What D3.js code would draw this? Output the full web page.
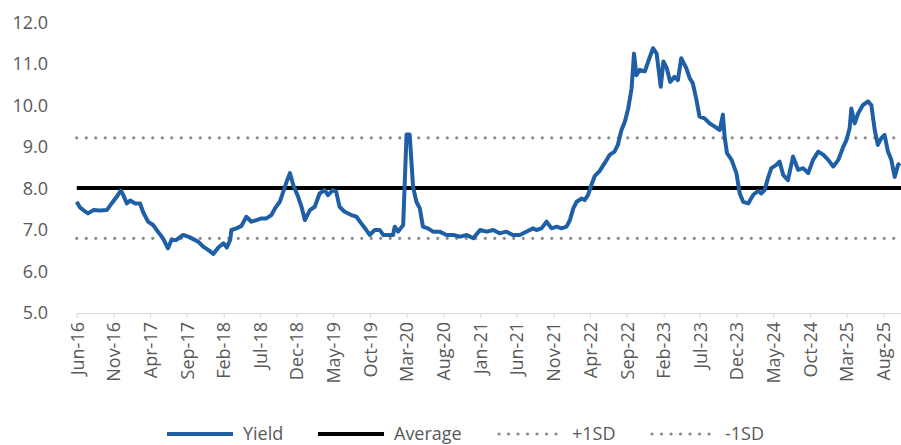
<!DOCTYPE html><head><meta charset = "utf-8">
<title>yield</title>
<style type = "text/css">
* {
  box-sizing: border-box;
}
body {
  margin: 0;
  background: white;
}
svg text {
  font-family: "Open Sans", "Noto Sans", sans-serif;
  fill: #595959;
}
</style>
<script type="text/javascript" src="https://cdn.jsdelivr.net/npm/d3@7/dist/d3.min.js"></script>
</head><body>
<div class="chart"></div>

<script type="text/javascript">

// weekly-ish readings of the yield line
var yieldDates = [
"2016-06-01","2016-06-14","2016-06-28","2016-07-18","2016-08-09","2016-09-06","2016-10-04","2016-10-24","2016-11-14","2016-12-01",
"2016-12-12","2016-12-26","2017-01-09","2017-01-30","2017-02-19","2017-03-03","2017-03-24","2017-04-14","2017-05-04","2017-05-25",
"2017-06-15","2017-06-29","2017-07-20","2017-08-17","2017-09-07","2017-09-28","2017-10-18","2017-11-08","2017-11-29","2017-12-20",
"2018-01-10","2018-01-31","2018-02-14","2018-02-28","2018-03-05","2018-03-26","2018-04-16","2018-05-06","2018-05-27","2018-06-17",
"2018-07-08","2018-07-28","2018-08-18","2018-09-02","2018-09-22","2018-10-06","2018-10-20","2018-11-03","2018-11-17","2018-12-07",
"2018-12-21","2019-01-04","2019-01-25","2019-02-14","2019-03-06","2019-03-27","2019-04-10","2019-04-30","2019-05-14","2019-05-28",
"2019-06-18","2019-07-16","2019-08-06","2019-08-26","2019-09-16","2019-09-30","2019-10-21","2019-11-11","2019-11-25","2019-12-15",
"2020-01-05","2020-01-12","2020-01-26","2020-02-16","2020-03-01","2020-03-14","2020-03-28","2020-04-11","2020-04-25","2020-05-08",
"2020-05-29","2020-06-19","2020-07-16","2020-08-14","2020-09-11","2020-10-09","2020-11-06","2020-12-03","2020-12-31","2021-01-28",
"2021-02-24","2021-03-22","2021-04-19","2021-05-16","2021-06-14","2021-07-11","2021-08-08","2021-08-22","2021-09-12","2021-10-03",
"2021-10-24","2021-11-14","2021-12-04","2021-12-25","2022-01-08","2022-01-22","2022-02-05","2022-02-26","2022-03-10","2022-03-24",
"2022-04-07","2022-04-21","2022-05-11","2022-06-01","2022-06-22","2022-07-12","2022-07-26","2022-08-10","2022-08-24","2022-09-07",
"2022-09-21","2022-10-01","2022-10-11","2022-10-25","2022-11-15","2022-11-29","2022-12-19","2023-01-03","2023-01-20","2023-01-31",
"2023-02-14","2023-02-28","2023-03-18","2023-04-01","2023-04-15","2023-05-06","2023-05-20","2023-06-02","2023-06-17","2023-06-30",
"2023-07-21","2023-08-11","2023-09-01","2023-09-22","2023-10-05","2023-10-12","2023-10-22","2023-11-10","2023-11-30","2023-12-14",
"2023-12-28","2024-01-18","2024-02-08","2024-02-28","2024-03-12","2024-03-26","2024-04-09","2024-04-23","2024-05-14","2024-05-27",
"2024-06-11","2024-07-01","2024-07-22","2024-08-12","2024-09-02","2024-09-23","2024-10-13","2024-11-04","2024-11-25","2024-12-15",
"2025-01-05","2025-01-26","2025-02-16","2025-03-01","2025-03-14","2025-03-21","2025-04-04","2025-04-18","2025-05-08","2025-05-29",
"2025-06-12","2025-06-26","2025-07-09","2025-07-23","2025-08-06","2025-08-20","2025-09-03","2025-09-17","2025-10-01","2025-10-09"
];
var yieldValues = [
7.68,7.55,7.48,7.40,7.48,7.47,7.48,7.64,7.80,7.95,
7.84,7.64,7.71,7.64,7.64,7.44,7.20,7.12,6.96,6.80,
6.56,6.76,6.76,6.88,6.84,6.78,6.72,6.60,6.52,6.42,
6.58,6.68,6.58,6.76,7.00,7.04,7.10,7.32,7.20,7.24,
7.28,7.28,7.36,7.52,7.68,7.92,8.16,8.37,8.08,7.80,
7.56,7.24,7.48,7.56,7.88,7.96,7.84,7.96,7.92,7.56,
7.44,7.36,7.32,7.16,7.00,6.88,7.00,7.00,6.88,6.88,
6.88,7.08,6.96,7.12,9.30,9.30,8.04,7.68,7.52,7.08,
7.04,6.96,6.96,6.88,6.88,6.84,6.88,6.80,7.00,6.96,
7.00,6.92,6.96,6.88,6.88,6.96,7.04,7.00,7.04,7.20,
7.04,7.08,7.04,7.08,7.24,7.52,7.68,7.76,7.72,7.84,
8.08,8.30,8.42,8.61,8.81,8.89,9.05,9.41,9.61,9.93,
10.41,11.25,10.73,10.86,10.82,11.06,11.38,11.25,10.45,11.06,
10.90,10.57,10.69,10.61,11.14,10.90,10.66,10.54,10.14,9.73,
9.69,9.57,9.49,9.41,9.78,9.25,8.85,8.69,8.37,7.88,
7.68,7.64,7.85,7.94,7.88,7.96,8.25,8.49,8.57,8.65,
8.33,8.20,8.77,8.45,8.49,8.37,8.69,8.89,8.81,8.69,
8.53,8.69,9.01,9.17,9.45,9.93,9.57,9.81,10.01,10.10,
10.01,9.41,9.05,9.21,9.29,8.89,8.69,8.28,8.57,8.61
];

var averageValue = 8.01;
var plusSDValue = 9.22;
var minusSDValue = 6.80;

var yTicks = [5, 6, 7, 8, 9, 10, 11, 12];
var xTickDates = [
"2016-06-01","2016-11-01","2017-04-01","2017-09-01","2018-02-01","2018-07-01","2018-12-01","2019-05-01",
"2019-10-01","2020-03-01","2020-08-01","2021-01-01","2021-06-01","2021-11-01","2022-04-01","2022-09-01",
"2023-02-01","2023-07-01","2023-12-01","2024-05-01","2024-10-01","2025-03-01","2025-08-01"
];
var legendLabels = ["Yield", "Average", "+1SD", "-1SD"];

var width = 901, height = 445;
var blue = "#1f5fa5", dotGray = "#8c8c8c";
var parse = d3.timeParse("%Y-%m-%d");

var svg = d3.select("div.chart").append("svg")
  .attr("width", width).attr("height", height);

var xscale = d3.scaleTime()
  .domain([parse(yieldDates[0]), parse(yieldDates[yieldDates.length - 1])])
  .range([76.7, 900]);
var yscale = d3.scaleLinear()
  .domain([5, 12])
  .range([313, 22.5]);

// y labels (no axis line in the original)
svg.append("g").selectAll("text")
  .data(yTicks)
  .join("text")
  .attr("x", 48)
  .attr("y", d => yscale(d))
  .attr("dy", "0.35em")
  .attr("text-anchor", "end")
  .style("font-size", "18px")
  .text(d3.format(".1f"));

// x axis
var xaxis = svg.append("g")
  .attr("transform", "translate(0," + yscale(5) + ")")
  .call(d3.axisBottom(xscale)
    .tickValues(xTickDates.map(parse))
    .tickSize(5)
    .tickSizeOuter(0)
    .tickFormat(d3.timeFormat("%b-%y")));
xaxis.select(".domain").attr("stroke", "#d9d9d9").attr("d", "M76.5,0.5H901");
xaxis.selectAll(".tick line").attr("stroke", "#d9d9d9");
xaxis.selectAll(".tick text")
  .attr("transform", "rotate(-90)")
  .attr("x", -9)
  .attr("y", 0)
  .attr("dy", "0.35em")
  .attr("text-anchor", "end")
  .style("font-size", "18px")
  .style("font-family", "'Open Sans', sans-serif")
  .attr("fill", "#595959");

// reference lines
var refLines = [
  {v: plusSDValue, color: dotGray, w: 3.2, dash: "0.1 9.4", cap: "round"},
  {v: minusSDValue, color: dotGray, w: 3.2, dash: "0.1 9.4", cap: "round"},
  {v: averageValue, color: "black", w: 4, dash: null, cap: "butt"}
];
svg.append("g").selectAll("line")
  .data(refLines)
  .join("line")
  .attr("x1", xscale.range()[0]).attr("x2", 901)
  .attr("y1", d => yscale(d.v)).attr("y2", d => yscale(d.v))
  .attr("stroke", d => d.color)
  .attr("stroke-width", d => d.w)
  .attr("stroke-dasharray", d => d.dash)
  .attr("stroke-linecap", d => d.cap);

// yield line
var pts = yieldDates.map((d, i) => [parse(d), yieldValues[i]]);
svg.append("path")
  .datum(pts)
  .attr("fill", "none")
  .attr("stroke", blue)
  .attr("stroke-width", 4)
  .attr("stroke-linejoin", "round")
  .attr("d", d3.line().x(d => xscale(d[0])).y(d => yscale(d[1])));

// legend
var legendItems = [
  {label: legendLabels[0], x: 167, color: blue, dash: null, w: 4},
  {label: legendLabels[1], x: 318, color: "black", dash: null, w: 4},
  {label: legendLabels[2], x: 497, color: dotGray, dash: "0.1 9.4", w: 3.2},
  {label: legendLabels[3], x: 650, color: dotGray, dash: "0.1 9.4", w: 3.2}
];
var lg = svg.append("g").selectAll("g")
  .data(legendItems)
  .join("g")
  .attr("transform", d => "translate(" + d.x + ",434)");
lg.append("line")
  .attr("x1", d => d.dash ? 2 : 0).attr("x2", 66)
  .attr("stroke", d => d.color)
  .attr("stroke-width", d => d.w)
  .attr("stroke-dasharray", d => d.dash)
  .attr("stroke-linecap", d => d.dash ? "round" : "butt");
lg.append("text")
  .attr("x", d => d.dash ? 75 : 76)
  .attr("dy", "0.35em")
  .style("font-size", "18px")
  .text(d => d.label);

</script>
</body></html>
